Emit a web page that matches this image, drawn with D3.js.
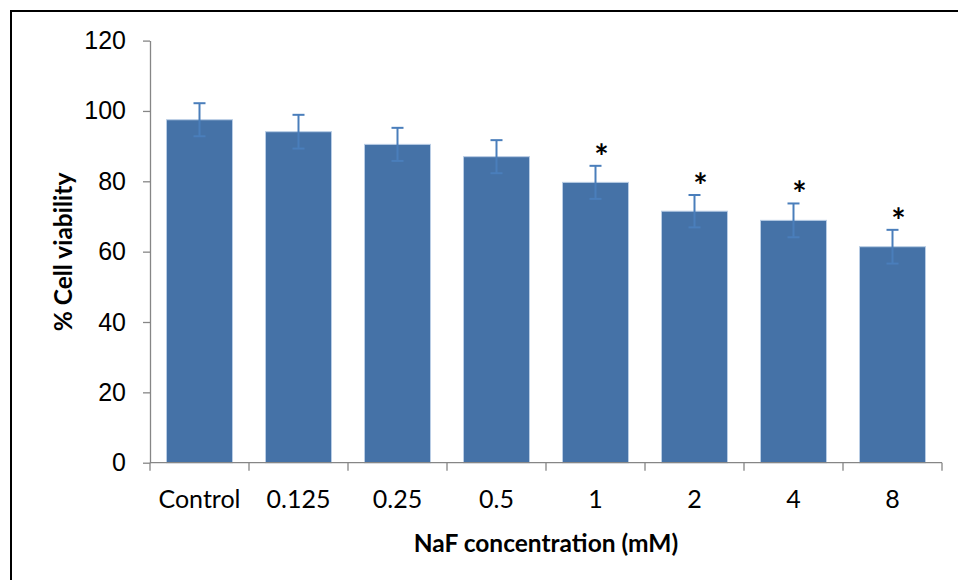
<!DOCTYPE html>
<html>
<head>
<meta charset="utf-8">
<script src="https://cdn.jsdelivr.net/npm/d3@7"></script>
<style>
  body { margin: 0; background: #fff; }
  svg { display: block; font-family: Lato, "Open Sans", sans-serif; }
</style>
</head>
<body>
<svg id="chart" width="958" height="580"></svg>
<script>
// values
const categories = ["Control", "0.125", "0.25", "0.5", "1", "2", "4", "8"]
const viability = [97.5, 94.1, 90.5, 87.0, 79.7, 71.5, 68.9, 61.4]
const errors = [4.7, 4.8, 4.7, 4.7, 4.7, 4.6, 4.8, 4.8]
const significant = [false, false, false, false, true, true, true, true]
const yTicks = [0, 20, 40, 60, 80, 100, 120]

const svg = d3.select("#chart")

// outer frame (only top and left edges fall inside the picture)
svg.append("rect")
  .attr("x", 11).attr("y", 11)
  .attr("width", 960).attr("height", 600)
  .attr("fill", "none")
  .attr("stroke", "#000")
  .attr("stroke-width", 2)

const margin = {left: 150, right: 942, top: 40.6, bottom: 462.7}

const x = d3.scaleBand()
  .domain(categories)
  .range([margin.left, margin.right])
  .paddingInner(1 / 3)
  .paddingOuter(1 / 6)

const y = d3.scaleLinear()
  .domain([0, 120])
  .range([margin.bottom, margin.top])

const axisColor = "#868686"

// y axis
const yAxis = svg.append("g")
  .attr("transform", `translate(${margin.left},0)`)
  .call(d3.axisLeft(y).tickValues(yTicks).tickSize(7).tickSizeOuter(0))
yAxis.select(".domain").attr("stroke", axisColor).attr("stroke-width", 1.3)
yAxis.selectAll(".tick line").attr("stroke", axisColor).attr("stroke-width", 1.3)
yAxis.selectAll(".tick text")
  .attr("font-size", 25)
  .attr("fill", "#000")
  .attr("x", -24)

// bars
svg.append("g")
  .selectAll("rect")
  .data(viability)
  .join("rect")
  .attr("x", (d, i) => x(categories[i]))
  .attr("y", d => y(d))
  .attr("width", x.bandwidth())
  .attr("height", d => y(0) - y(d))
  .attr("fill", "#4572a7")
  .attr("stroke", "#b9cde5")
  .attr("stroke-width", 1)

// x axis (ticks between categories)
const step = x.step()
const xBounds = d3.range(categories.length + 1).map(i => margin.left + i * step)
const xAxis = svg.append("g")
xAxis.append("line")
  .attr("x1", margin.left).attr("x2", margin.right)
  .attr("y1", y(0)).attr("y2", y(0))
  .attr("stroke", axisColor).attr("stroke-width", 1.3)
xAxis.selectAll(".xt")
  .data(xBounds)
  .join("line")
  .attr("class", "xt")
  .attr("x1", d => d).attr("x2", d => d)
  .attr("y1", y(0)).attr("y2", y(0) + 8)
  .attr("stroke", axisColor).attr("stroke-width", 1.3)
xAxis.selectAll("text")
  .data(categories)
  .join("text")
  .attr("x", d => x(d) + x.bandwidth() / 2)
  .attr("y", y(0) + 45)
  .attr("text-anchor", "middle")
  .attr("font-size", 25)
  .attr("fill", "#000")
  .text(d => d)

// error bars
const errColor = "#4a7ebb"
const eb = svg.append("g")
  .attr("stroke", errColor)
  .attr("stroke-width", 2)
viability.forEach((v, i) => {
  const cx = x(categories[i]) + x.bandwidth() / 2
  const top = y(v + errors[i]), bot = y(v - errors[i])
  eb.append("line").attr("x1", cx).attr("x2", cx).attr("y1", top).attr("y2", bot)
  eb.append("line").attr("x1", cx - 6).attr("x2", cx + 6).attr("y1", top).attr("y2", top)
  eb.append("line").attr("x1", cx - 6).attr("x2", cx + 6).attr("y1", bot).attr("y2", bot)
})

// significance stars
svg.append("g")
  .selectAll("text")
  .data(viability.map((v, i) => ({v, i})).filter(d => significant[d.i]))
  .join("text")
  .attr("x", d => x(categories[d.i]) + x.bandwidth() / 2 + 6)
  .attr("y", d => y(d.v + errors[d.i]) + 3)
  .attr("text-anchor", "middle")
  .attr("font-size", 34)
  .attr("font-weight", "bold")
  .attr("fill", "#000")
  .text("*")

// axis titles
svg.append("text")
  .attr("x", (margin.left + margin.right) / 2)
  .attr("y", 552)
  .attr("text-anchor", "middle")
  .attr("font-size", 24.5)
  .attr("font-weight", "bold")
  .text("NaF concentration (mM)")

svg.append("text")
  .attr("transform", "translate(72,252) rotate(-90)")
  .attr("text-anchor", "middle")
  .attr("font-size", 24.5)
  .attr("font-weight", "bold")
  .text("% Cell viability")
</script>
</body>
</html>
